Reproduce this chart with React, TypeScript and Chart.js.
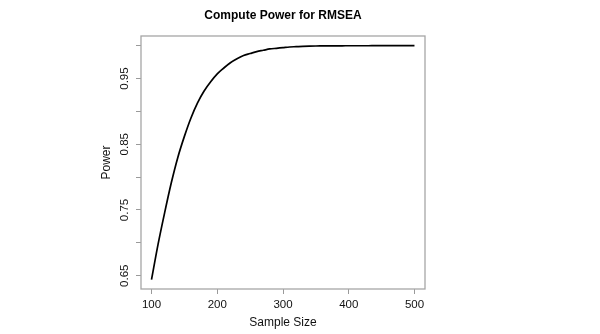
import React, { useEffect, useRef } from "react";
import { Chart, registerables } from "chart.js";

Chart.register(...registerables);

const sampleSizes = [100, 110, 120, 130, 140, 150, 160, 170, 180, 190, 200, 210, 220, 230, 240, 250, 260, 270, 280, 290, 300, 310, 320, 330, 340, 350, 360, 370, 380, 390, 400, 410, 420, 430, 440, 450, 460, 470, 480, 490, 500];
const powerValues = [0.644, 0.698, 0.746, 0.791, 0.83, 0.862, 0.89, 0.913, 0.931, 0.945, 0.957, 0.966, 0.974, 0.98, 0.985, 0.988, 0.991, 0.993, 0.995, 0.996, 0.997, 0.998, 0.9985, 0.999, 0.9993, 0.9995, 0.9996, 0.9997, 0.9998, 0.9998, 0.9999, 0.9999, 0.9999, 0.9999, 1.0, 1.0, 1.0, 1.0, 1.0, 1.0, 1.0];
const xTicks = [100, 200, 300, 400, 500];
const yTicks = [0.65, 0.7, 0.75, 0.8, 0.85, 0.9, 0.95, 1.0];
const yLabeled = ["0.65", "0.75", "0.85", "0.95"];

const FONT = "'Liberation Sans', Arial, Helvetica, sans-serif";

const boxPlugin = {
  id: "boxPlugin",
  afterDraw(chart: any) {
    const { ctx, chartArea } = chart;
    ctx.save();
    ctx.strokeStyle = "#a6a6a6";
    ctx.lineWidth = 1.3;
    ctx.strokeRect(chartArea.left, chartArea.top, chartArea.right - chartArea.left, chartArea.bottom - chartArea.top);
    ctx.restore();
  },
};

export default function App() {
  const ref = useRef<HTMLCanvasElement | null>(null);
  useEffect(() => {
    document.body.style.margin = "0";
    const canvas = ref.current!;
    const chart = new Chart(canvas, {
      type: "line",
      data: {
        datasets: [
          {
            data: sampleSizes.map((x, i) => ({ x, y: powerValues[i] })),
            borderColor: "#000000",
            borderWidth: 1.7,
            pointRadius: 0,
            fill: false,
            cubicInterpolationMode: "monotone",
          },
        ],
      },
      options: {
        animation: false,
        responsive: false,
        events: [],
        layout: { padding: { left: 90, right: 175, top: 0, bottom: 0 } },
        plugins: {
          legend: { display: false },
          tooltip: { enabled: false },
          title: {
            display: true,
            text: "Compute Power for RMSEA",
            fullSize: false,
            color: "#000",
            font: { family: FONT, size: 12, weight: "bold", lineHeight: 1.2 },
            padding: { top: 8, bottom: 13.6 },
          },
        },
        scales: {
          x: {
            type: "linear",
            min: 84,
            max: 516,
            afterFit(scale: any) {
              scale.height = 45;
            },
            afterBuildTicks(scale: any) {
              scale.ticks = xTicks.map((v) => ({ value: v }));
            },
            border: { display: false },
            grid: { drawOnChartArea: false, drawTicks: true, tickLength: 5, color: "#9a9a9a" },
            ticks: {
              color: "#111",
              font: { family: FONT, size: 11.5 },
              padding: 4,
              maxRotation: 0,
              autoSkip: false,
              callback: (v: any) => String(v),
            },
            title: {
              display: true,
              text: "Sample Size",
              color: "#111",
              font: { family: FONT, size: 12, lineHeight: 1.2 },
              padding: { top: 0, bottom: 4 },
            },
          },
          y: {
            type: "linear",
            min: 0.6298,
            max: 1.0147,
            afterFit(scale: any) {
              scale.width = 51;
            },
            afterBuildTicks(scale: any) {
              scale.ticks = yTicks.map((v) => ({ value: v }));
            },
            border: { display: false },
            grid: { drawOnChartArea: false, drawTicks: true, tickLength: 5, color: "#9a9a9a" },
            ticks: {
              color: "#111",
              font: { family: FONT, size: 11.5 },
              padding: 0,
              minRotation: 90,
              maxRotation: 90,
              crossAlign: "center",
              autoSkip: false,
              callback: (v: any) => {
                const s = Number(v).toFixed(2);
                return yLabeled.includes(s) ? s : "";
              },
            },
            title: {
              display: true,
              text: "Power",
              color: "#111",
              font: { family: FONT, size: 12, lineHeight: 1.2 },
              padding: { top: 9, bottom: 0 },
            },
          },
        },
      },
      plugins: [boxPlugin],
    } as any);
    return () => chart.destroy();
  }, []);
  return (
    <div style={{ width: 600, height: 334, background: "#fff" }}>
      <canvas ref={ref} width={600} height={334} style={{ display: "block" }} />
    </div>
  );
}
